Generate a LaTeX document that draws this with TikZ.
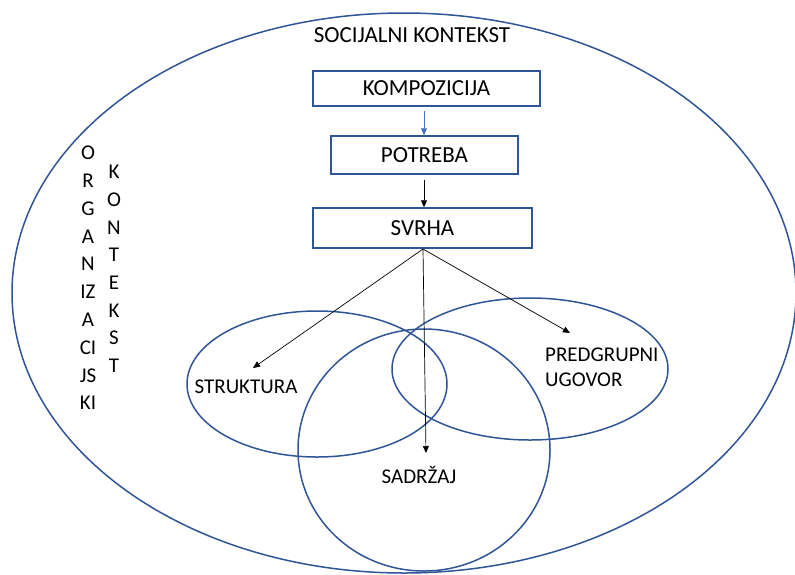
\documentclass[tikz,border=0pt]{standalone}
\usepackage{fontspec}
\setmainfont{Carlito}
\usetikzlibrary{arrows.meta}
\definecolor{ringblue}{RGB}{47,85,151}
\definecolor{linkblue}{RGB}{68,114,196}

\begin{document}
\begin{tikzpicture}[x=1pt,y=-1pt,
    box/.style={draw=ringblue,line width=1.5pt,inner sep=0pt,font=\fontsize{23}{27}\selectfont},
    ring/.style={draw=ringblue,line width=1.5pt},
    link/.style={-{Triangle[length=7pt,width=6pt]},line width=.7pt},
    lbl/.style={inner sep=0pt,font=\fontsize{21}{25}\selectfont}]
\useasboundingbox (0,0) rectangle (795,574);

% social context
\draw[ring] (404,293) ellipse [x radius=392,y radius=280];
\node[lbl,font=\fontsize{23}{27}\selectfont] (soc) at (412,35) {SOCIJALNI KONTEKST};

% organisational context, one letter group per line
\node[lbl,align=center,font=\fontsize{21}{27.8}\selectfont] (org) at (88,278)
    {O\\R\\G\\A\\N\\IZ\\A\\CI\\JS\\KI};
\node[lbl,align=center,font=\fontsize{21}{27.7}\selectfont] (kon) at (114,269)
    {K\\O\\N\\T\\E\\K\\S\\T};

% chain of boxes
\node[box,minimum width=227,minimum height=35] (komp)    at (426.5, 88.5) {KOMPOZICIJA};
\node[box,minimum width=187,minimum height=38] (potreba) at (424.5,155  ) {POTREBA};
\node[box,minimum width=219,minimum height=40] (svrha)   at (422.5,228  ) {SVRHA};

\draw[link,linkblue] ([yshift=-4]komp.south -| 424,0)    -- (potreba.north -| 424,0);
\draw[link]          ([yshift=-5]potreba.south -| 424,0) -- (svrha.north -| 424,0);

% three overlapping areas
\draw[ring] (317,384) ellipse [x radius=130,y radius=73];
\draw[ring] (424,450) ellipse [x radius=126,y radius=121];
\draw[ring] (530,369) ellipse [x radius=138,y radius=71];

\node[lbl] (struk) at (246,387) {STRUKTURA};
\node[lbl] (sadr)  at (419,475) {SADRŽAJ};
\node[lbl,align=left,anchor=west] (ugov) at (545,367) {PREDGRUPNI\\UGOVOR};

\coordinate (top)     at (423,249);
\coordinate (tstruk)  at (253,368);
\coordinate (tsadr)   at (426,453);
\coordinate (tugov)   at (570,333);
\draw[link] (top) -- (tstruk);
\draw[link] (top) -- (tsadr);
\draw[link] (top) -- (tugov);
\end{tikzpicture}
\end{document}
